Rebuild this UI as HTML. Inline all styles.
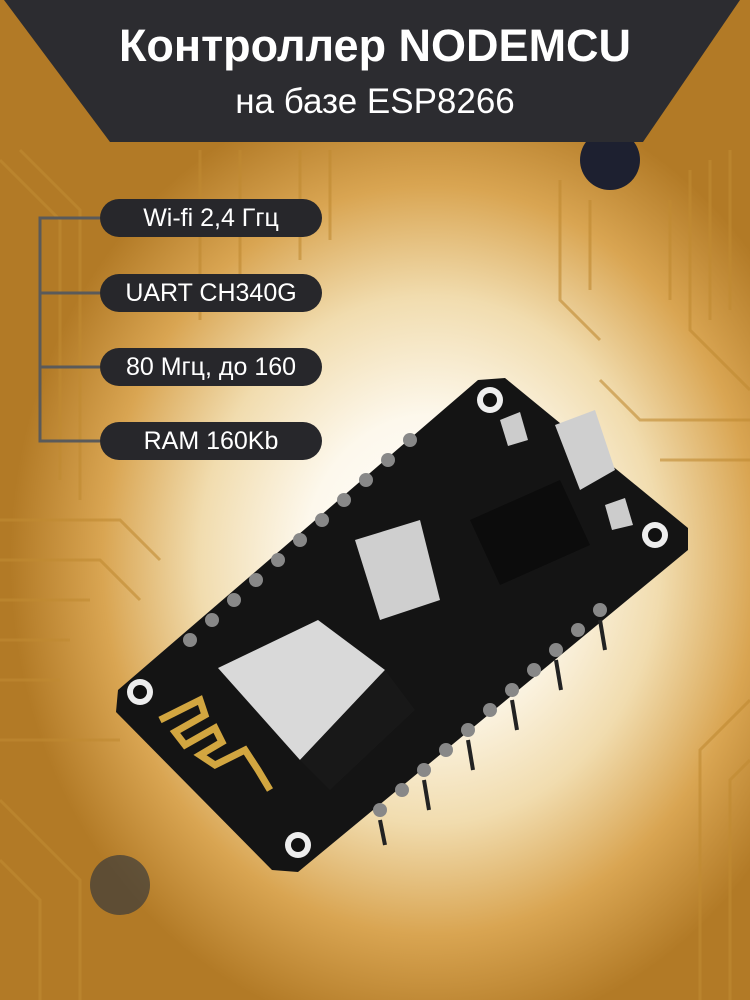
<!DOCTYPE html>
<html><head><meta charset="utf-8"><style>
body{margin:0;width:750px;height:1000px;overflow:hidden;font-family:"Liberation Sans",sans-serif}
.bg{position:absolute;inset:0;background:radial-gradient(ellipse 420px 480px at 430px 560px,#ffffff 0%,#fdf8ec 30%,#f1dcae 55%,#d9a552 78%,#b27a26 100%)}
.pill{position:absolute;left:100px;width:222px;height:38px;border-radius:19px;background:#27272b;color:#fff;font-size:25px;line-height:38px;text-align:center}
</style></head><body>
<div class="bg"></div>
<svg width="750" height="1000" style="position:absolute;left:0;top:0">
<g stroke="#c08a32" stroke-width="3" fill="none" opacity="0.6">
<path d="M0 160 L60 220 L60 480 M20 150 L80 210 L80 500 M0 520 L120 520 L160 560 M0 560 L100 560 L140 600 M0 600 L90 600 M0 640 L70 640 M0 680 L60 680"/>
<path d="M690 170 L690 330 L750 390 M710 160 L710 320 M730 150 L730 310 M750 420 L640 420 L600 380 M750 460 L660 460 M670 200 L670 300"/>
<path d="M0 800 L80 880 L80 1000 M0 860 L40 900 L40 1000 M750 700 L700 750 L700 1000 M750 760 L730 780 L730 1000 M0 740 L120 740"/>
<path d="M300 150 L300 260 M330 150 L330 240 M560 180 L560 300 L600 340 M590 200 L590 290 M200 150 L200 320 M240 150 L240 300"/>
</g>
<circle cx="610" cy="160" r="30" fill="#1d2030"/>
<circle cx="120" cy="885" r="30" fill="#3a3a3a" opacity="0.7"/>
<polygon points="4,0 740,0 643,142 110,142" fill="#2c2c30"/>
<polyline points="100,218 40,218 40,441 100,441" stroke="#5a5a5a" stroke-width="3" fill="none"/>
<line x1="40" y1="293" x2="100" y2="293" stroke="#5a5a5a" stroke-width="3"/>
<line x1="40" y1="367" x2="100" y2="367" stroke="#5a5a5a" stroke-width="3"/>
<polygon points="478,380 505,378 688,528 688,550 298,872 272,870 116,712 118,690" fill="#141414"/>
<circle cx="490" cy="400" r="13" fill="#eee"/><circle cx="490" cy="400" r="7" fill="#111"/>
<circle cx="655" cy="535" r="13" fill="#eee"/><circle cx="655" cy="535" r="7" fill="#111"/>
<circle cx="140" cy="692" r="13" fill="#eee"/><circle cx="140" cy="692" r="7" fill="#111"/>
<circle cx="298" cy="845" r="13" fill="#eee"/><circle cx="298" cy="845" r="7" fill="#111"/>
<polygon points="555,425 595,410 615,470 580,490" fill="#cfcfcf"/>
<polygon points="500,420 520,412 528,440 508,446" fill="#ccc"/>
<polygon points="605,505 625,498 633,525 612,530" fill="#ccc"/>
<polygon points="470,520 560,480 590,545 500,585" fill="#0c0c0c"/>
<polygon points="355,540 420,520 440,600 380,620" fill="#cfcfcf"/>
<polygon points="218,668 318,620 385,670 300,760" fill="#d9d9d9"/>
<polygon points="300,760 385,670 415,710 330,790" fill="#181818"/>
<path d="M160 720 L200 700 L205 715 L175 732 L185 745 L215 728 L222 742 L200 755 L215 765 L245 750 L258 770 L270 790" stroke="#d2a640" stroke-width="7" fill="none"/>
<g fill="#888">
<circle cx="190" cy="640" r="7"/><circle cx="212" cy="620" r="7"/><circle cx="234" cy="600" r="7"/><circle cx="256" cy="580" r="7"/><circle cx="278" cy="560" r="7"/><circle cx="300" cy="540" r="7"/><circle cx="322" cy="520" r="7"/><circle cx="344" cy="500" r="7"/><circle cx="366" cy="480" r="7"/><circle cx="388" cy="460" r="7"/><circle cx="410" cy="440" r="7"/>
<circle cx="380" cy="810" r="7"/><circle cx="402" cy="790" r="7"/><circle cx="424" cy="770" r="7"/><circle cx="446" cy="750" r="7"/><circle cx="468" cy="730" r="7"/><circle cx="490" cy="710" r="7"/><circle cx="512" cy="690" r="7"/><circle cx="534" cy="670" r="7"/><circle cx="556" cy="650" r="7"/><circle cx="578" cy="630" r="7"/><circle cx="600" cy="610" r="7"/>
</g>
<g stroke="#222" stroke-width="4">
<line x1="380" y1="820" x2="385" y2="845"/><line x1="424" y1="780" x2="429" y2="810"/><line x1="468" y1="740" x2="473" y2="770"/><line x1="512" y1="700" x2="517" y2="730"/><line x1="556" y1="660" x2="561" y2="690"/><line x1="600" y1="620" x2="605" y2="650"/>
</g>
</svg>
<div style="position:absolute;left:0;width:750px;top:20px;text-align:center;color:#fff;font-weight:bold;font-size:45px">Контроллер NODEMCU</div>
<div style="position:absolute;left:0;width:750px;top:82px;text-align:center;color:#fff;font-size:35px">на базе ESP8266</div>
<div class="pill" style="top:199px">Wi-fi 2,4 Ггц</div>
<div class="pill" style="top:274px">UART CH340G</div>
<div class="pill" style="top:348px">80 Мгц, до 160</div>
<div class="pill" style="top:422px">RAM 160Kb</div>
</body></html>
